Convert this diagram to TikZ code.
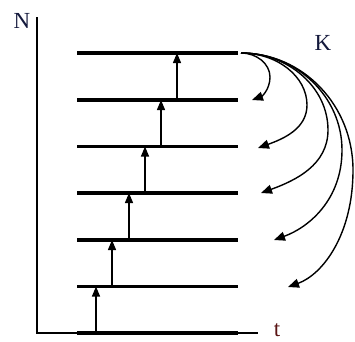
\documentclass[tikz,border=0pt]{standalone}
\usepackage{fontspec}
\setmainfont{Liberation Serif}
\usetikzlibrary{arrows.meta}
\definecolor{navy}{RGB}{20,25,60}
\definecolor{tred}{RGB}{90,20,20}
\begin{document}
\begin{tikzpicture}[x=1pt,y=-1pt,
  level/.style={line width=3.6pt},
  axisline/.style={line width=1.1pt},
  up/.style={line width=1.3pt,-{Triangle[length=10pt,width=8pt]}},
  decay/.style={line width=1.4pt,-{Triangle[length=11pt,width=9pt]}},
  lbl/.style={inner sep=0pt,font=\fontsize{23}{25}\selectfont}]
\useasboundingbox (0,0) rectangle (355,341);
% axes
\coordinate (top) at (37,17);
\coordinate (origin) at (37,333);
\coordinate (tend) at (258,333);
\draw[axisline] (top) -- (origin) -- (tend);
\node[lbl,text=navy] (N) at (22,21) {N};
\node[lbl,text=navy] (K) at (323,43) {K};
\node[lbl,text=tred] (t) at (277,330) {t};
% levels
\foreach \i/\y in {0/333,1/286.5,2/240,3/193,4/146.5,5/100,6/53}{
  \coordinate (L\i) at (77,\y);
  \coordinate (R\i) at (238,\y);
  \draw[level] (L\i) -- (R\i);
}
% excitation arrows
\foreach \i/\j/\x in {0/1/96,1/2/112,2/3/129,3/4/145,4/5/161,5/6/177}{
  \coordinate (a\i) at (\x,0);
  \draw[up] (a\i |- L\i) -- (a\i |- L\j);
}
% decay arrows from top level
\coordinate (S) at (241,53);
\coordinate (T5) at (252,100);
\coordinate (T4) at (258,148);
\coordinate (T3) at (261,193);
\coordinate (T2) at (274,240);
\coordinate (T1) at (288,287);
\draw[decay] (S) .. controls (256.6,53) and (270,63.8) .. (270,77)
  .. controls (270,89.7) and (261.4,96.6) .. (T5);
\draw[decay] (S) .. controls (277,53) and (307,76.3) .. (307,105)
  .. controls (307,128.7) and (283.4,138.8) .. (T4);
\draw[decay] (S) .. controls (288.6,53) and (328,87.5) .. (328,130)
  .. controls (328,164.8) and (295.8,180.4) .. (T3);
\draw[decay] (S) .. controls (296.3,53) and (342,96.5) .. (342,150)
  .. controls (342,199.7) and (308.8,227.4) .. (T2);
\draw[decay] (S) .. controls (302.9,53) and (353,105.4) .. (353,170)
  .. controls (353,234.6) and (322.8,274.4) .. (T1);
\end{tikzpicture}
\end{document}
